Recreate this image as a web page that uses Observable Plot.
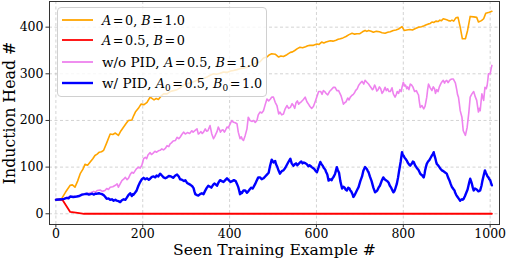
<!DOCTYPE html>
<html>
<head>
<meta charset="utf-8">
<script src="https://cdn.jsdelivr.net/npm/d3@7"></script>
<script src="https://cdn.jsdelivr.net/npm/@observablehq/plot@0.6"></script>
<style>
  html, body { margin: 0; padding: 0; background: white; }
  #wrap { position: relative; width: 507px; height: 262px; overflow: hidden; font-family: "DejaVu Serif", serif; }
  #legend { position: absolute; left: 57px; top: 7px; width: 210px; height: 90px; box-sizing: border-box;
    border: 1px solid #d0d0d0; border-radius: 4px; background: rgba(255,255,255,0.8); }
  .row { position: absolute; left: 0; height: 20px; width: 100%; }
  .sw { position: absolute; left: 3.5px; top: 0; width: 31px; height: 20px; }
  .lab { position: absolute; left: 44px; top: 0; line-height: 20px; font-size: 13.5px; white-space: nowrap; color: #000; font-family: "DejaVu Serif", serif; }
  .m { font-size: 12.8px; }
  .m i { font-style: italic; }
  .m sub { font-size: 0.7em; vertical-align: -0.3em; line-height: 0; }
</style>
</head>
<body>
<div id="wrap"></div>
<script>
const xTicks = [0, 200, 400, 600, 800, 1000];
const yTicks = [0, 100, 200, 300, 400];
const xLabel = "Seen Training Example #";
const yLabel = "Induction Head #";

const seriesNames = ["A=0, B=1.0", "A=0.5, B=0", "w/o PID, A=0.5, B=1.0", "w/ PID, A0=0.5, B0=1.0"];
const seriesColors = ["#ffa500", "#ff0000", "#ee82ee", "#0000ff"];

const orange = [[0,30],[13,32],[22,46],[33,61],[38,62],[44,57],[50,70],[56,86],[62,95],[67,106],[73,104],[79,111],[85,118],[90,125],[95,128],[100,132],[105,133],[110,136],[117,152],[125,171],[131,170],[137,173],[144,168],[150,178],[156,186],[162,194],[167,200],[175,201],[179,210],[183,218],[190,226],[196,235],[203,234],[210,239],[217,250],[226,244],[231,247],[236,245],[242,252],[248,257],[256,257],[263,262],[271,264],[279,266],[286,270],[294,276],[302,279],[310,280],[317,283],[325,286],[332,289],[340,290],[348,293],[355,297],[363,300],[370,299],[378,301],[386,304],[394,303],[402,306],[409,307],[417,309],[424,311],[432,312],[440,314],[447,317],[455,321],[462,323],[470,326],[478,334],[486,336],[492,341],[497,343],[505,342],[509,339],[513,336],[518,338],[524,337],[532,341],[540,346],[545,347],[550,350],[556,354],[562,357],[568,356],[575,358],[580,360],[585,361],[593,361],[601,364],[606,363],[612,368],[617,366],[622,368],[628,370],[632,371],[638,370],[645,372],[650,374],[655,375],[661,377],[668,380],[675,384],[682,387],[688,385],[693,386],[700,386],[706,390],[712,393],[716,391],[720,393],[726,391],[731,389],[738,391],[745,390],[751,388],[758,387],[764,389],[770,390],[777,393],[783,394],[789,396],[797,401],[802,393],[808,394],[815,395],[821,394],[828,397],[835,400],[842,401],[848,403],[853,405],[858,407],[862,408],[866,411],[870,410],[875,413],[880,412],[884,415],[888,414],[892,418],[900,416],[904,414],[908,413],[912,415],[916,413],[921,420],[926,421],[931,400],[936,375],[943,375],[948,393],[954,423],[962,422],[969,421],[973,411],[980,414],[985,418],[990,430],[998,432],[1004,434]];

const red = [[0,30],[15,30],[33,4],[50,2],[65,0],[100,0],[1004,0]];

const violet = [[0,30],[13,31],[33,37],[48,37],[60,41],[71,43],[80,45],[87,48],[91,46],[95,50],[102,51],[107,48],[113,50],[117,54],[121,52],[125,57],[131,58],[137,61],[141,64],[144,57],[148,64],[152,71],[156,74],[160,78],[164,73],[167,76],[171,84],[175,89],[179,87],[183,93],[186,97],[190,100],[194,98],[198,104],[202,118],[206,121],[209,118],[212,126],[217,131],[220,127],[224,130],[228,134],[232,132],[236,135],[240,136],[244,139],[248,137],[252,140],[256,146],[260,144],[263,150],[266,152],[270,156],[275,157],[279,164],[283,161],[286,164],[290,170],[294,175],[298,171],[303,174],[308,172],[313,178],[316,175],[320,178],[325,182],[328,171],[331,173],[334,176],[337,172],[340,175],[344,182],[347,177],[350,178],[355,189],[359,171],[363,161],[366,166],[368,170],[371,176],[374,186],[377,180],[379,175],[382,179],[385,180],[388,175],[390,178],[394,186],[397,184],[400,190],[405,200],[409,196],[413,195],[417,193],[420,175],[424,161],[427,165],[429,160],[432,157],[436,168],[440,182],[443,207],[447,200],[452,198],[455,200],[459,196],[463,200],[466,212],[470,218],[474,216],[478,221],[482,234],[486,246],[490,242],[494,246],[497,250],[501,250],[505,239],[509,232],[513,214],[516,218],[520,212],[524,214],[528,225],[532,232],[536,226],[540,228],[544,236],[547,232],[550,226],[553,238],[556,242],[559,235],[562,238],[565,240],[570,245],[574,250],[578,240],[581,236],[585,230],[589,226],[593,230],[597,240],[600,248],[605,262],[610,262],[613,256],[616,264],[619,262],[622,258],[626,255],[630,262],[634,266],[639,271],[643,271],[647,264],[651,264],[654,258],[657,252],[660,242],[662,235],[665,238],[668,240],[672,248],[675,244],[678,250],[682,254],[685,256],[688,260],[690,264],[694,268],[697,275],[701,280],[705,284],[709,278],[712,286],[716,282],[720,278],[723,274],[726,270],[729,266],[731,268],[734,276],[736,272],[739,263],[742,266],[745,272],[748,268],[751,258],[754,262],[758,271],[761,264],[764,268],[767,262],[770,262],[774,270],[777,257],[781,250],[784,256],[786,262],[789,258],[792,266],[795,262],[797,271],[800,282],[803,274],[805,276],[808,268],[810,272],[813,266],[816,278],[819,276],[822,272],[826,262],[830,264],[833,258],[835,255],[837,240],[839,228],[843,232],[847,225],[850,230],[852,240],[854,250],[856,266],[858,278],[862,270],[866,264],[869,272],[872,268],[874,258],[877,266],[880,262],[883,272],[887,280],[890,284],[892,286],[895,280],[897,284],[900,286],[903,281],[906,285],[909,288],[912,289],[915,289],[918,284],[920,280],[923,266],[925,255],[927,250],[929,236],[931,221],[935,207],[938,178],[943,168],[947,185],[951,218],[954,250],[958,257],[962,262],[966,250],[969,243],[971,230],[973,218],[975,226],[977,221],[979,240],[981,257],[983,250],[985,243],[988,271],[991,268],[993,275],[995,290],[996,300],[1000,300],[1002,310],[1004,318]];

const blue = [[0,30],[13,31],[19,32],[25,34],[29,33],[33,37],[40,36],[48,37],[54,38],[60,41],[66,42],[71,43],[76,41],[80,42],[84,43],[87,41],[91,43],[95,43],[99,44],[102,43],[106,42],[110,40],[113,37],[117,32],[121,33],[125,30],[129,31],[133,28],[137,30],[140,28],[144,27],[148,25],[152,29],[156,31],[160,30],[163,34],[167,40],[171,44],[173,41],[175,38],[177,42],[179,41],[183,46],[186,50],[190,60],[194,68],[198,74],[202,77],[206,74],[210,76],[214,73],[217,75],[221,79],[225,80],[229,78],[232,82],[236,80],[240,86],[244,82],[248,78],[252,76],[256,78],[260,81],[265,80],[270,77],[275,82],[279,84],[283,80],[286,74],[290,73],[295,70],[298,72],[302,66],[306,64],[310,62],[314,59],[317,55],[319,48],[321,42],[325,40],[328,39],[332,42],[336,44],[340,42],[343,48],[347,55],[351,60],[355,58],[358,56],[362,62],[365,65],[368,63],[371,60],[374,66],[378,72],[382,70],[386,68],[390,72],[394,76],[398,72],[402,68],[406,70],[410,72],[414,70],[417,64],[420,57],[422,50],[424,42],[426,46],[428,44],[432,50],[436,50],[440,45],[443,48],[447,53],[450,56],[453,54],[455,57],[459,64],[462,70],[466,78],[470,78],[474,74],[478,76],[482,80],[486,84],[490,88],[493,102],[497,116],[501,110],[505,113],[507,106],[510,100],[513,92],[516,86],[519,90],[521,92],[524,93],[528,98],[532,105],[536,112],[540,118],[543,108],[547,103],[550,106],[553,108],[556,104],[559,107],[562,110],[565,112],[568,108],[571,110],[575,108],[578,106],[581,102],[584,104],[587,102],[589,100],[592,98],[595,96],[598,92],[601,89],[603,94],[605,100],[607,106],[609,111],[612,106],[615,102],[617,98],[620,95],[622,90],[625,84],[628,71],[631,74],[635,72],[637,76],[640,80],[643,86],[647,100],[649,94],[652,88],[655,70],[659,54],[662,58],[665,56],[667,52],[670,50],[673,56],[676,54],[678,50],[680,48],[683,42],[685,36],[688,40],[690,44],[693,50],[697,57],[701,70],[705,80],[708,92],[712,100],[714,98],[716,96],[718,92],[720,89],[723,80],[727,70],[731,56],[735,46],[738,48],[740,50],[743,56],[746,60],[750,70],[754,78],[757,74],[760,72],[763,70],[766,67],[769,60],[772,56],[775,50],[777,46],[779,48],[781,52],[783,58],[785,64],[788,78],[790,90],[794,112],[797,132],[799,126],[801,124],[803,120],[805,118],[808,114],[810,110],[813,106],[816,103],[818,106],[820,108],[822,112],[824,111],[827,104],[830,100],[832,97],[835,94],[837,90],[839,86],[841,84],[843,83],[845,80],[847,78],[849,86],[850,92],[852,100],[854,107],[857,112],[860,115],[863,120],[866,125],[868,128],[870,132],[872,124],[874,118],[876,110],[877,107],[880,104],[883,100],[886,96],[889,93],[891,92],[894,90],[897,88],[900,86],[903,78],[906,72],[909,64],[912,57],[914,55],[916,52],[918,50],[919,46],[922,40],[925,36],[928,32],[931,28],[933,30],[935,31],[937,30],[939,32],[942,38],[945,45],[948,52],[950,60],[952,68],[954,75],[956,70],[958,64],[960,56],[962,50],[965,54],[969,52],[973,48],[977,50],[980,60],[982,70],[985,82],[988,93],[990,88],[992,84],[994,80],[996,78],[998,74],[1000,72],[1002,66],[1004,61]];

const X = d => d[0], Y = d => d[1];
const font = "DejaVu Serif";
const fmt = d => String(d);

const chart = Plot.plot({
  width: 507, height: 262,
  marginLeft: 49, marginRight: 8, marginTop: 1, marginBottom: 38,
  x: {domain: [-14.7, 1021.5]},
  y: {domain: [-23, 455]},
  style: {fontFamily: font, fontSize: "12.5px", color: "#000", background: "white", overflow: "visible"},
  marks: [
    Plot.gridX(xTicks, {stroke: "#b0b0b0", strokeOpacity: 0.7, strokeDasharray: "3,2.5", strokeWidth: 0.8}),
    Plot.gridY(yTicks, {stroke: "#b0b0b0", strokeOpacity: 0.7, strokeDasharray: "3,2.5", strokeWidth: 0.8}),
    Plot.line(orange, {x: X, y: Y, stroke: seriesColors[0], strokeWidth: 1.6}),
    Plot.line(red, {x: X, y: Y, stroke: seriesColors[1], strokeWidth: 1.8}),
    Plot.line(violet, {x: X, y: Y, stroke: seriesColors[2], strokeWidth: 1.6}),
    Plot.line(blue, {x: X, y: Y, stroke: seriesColors[3], strokeWidth: 2.4}),
    Plot.frame({stroke: "#333", strokeWidth: 1}),
    Plot.axisX(xTicks, {tickSize: 3.5, tickPadding: 1.5, label: null, stroke: "#333", fontSize: 12.5, fontFamily: font, tickFormat: fmt}),
    Plot.axisY(yTicks, {tickSize: 3.5, tickPadding: 2.5, label: null, stroke: "#333", fontSize: 12.5, fontFamily: font, tickFormat: fmt}),
    Plot.text([xLabel], {frameAnchor: "bottom", dy: 30.5, fontSize: 15.6, fontFamily: font, fill: "#000"}),
    Plot.text([yLabel], {frameAnchor: "left", textAnchor: "middle", dx: -40, rotate: -90, fontSize: 15.8, fontFamily: font, fill: "#000"})
  ]
});

const wrap = document.getElementById("wrap");
wrap.appendChild(chart);

const eq = '<span style="margin:0 0.12em">=</span>';
const labelsHTML = [
  '<span class="m"><i>A</i>' + eq + '0, <i>B</i>' + eq + '1.0</span>',
  '<span class="m"><i>A</i>' + eq + '0.5, <i>B</i>' + eq + '0</span>',
  'w/o PID, <span class="m"><i>A</i>' + eq + '0.5, <i>B</i>' + eq + '1.0</span>',
  'w/ PID, <span class="m"><i>A</i><sub>0</sub>' + eq + '0.5, <i>B</i><sub>0</sub>' + eq + '1.0</span>'
];
const legend = document.createElement("div");
legend.id = "legend";
const rowTops = [2, 22, 43.5, 65];
seriesNames.forEach((name, i) => {
  const row = document.createElement("div");
  row.className = "row";
  row.style.top = rowTops[i] + "px";
  const sw = document.createElementNS("http://www.w3.org/2000/svg", "svg");
  sw.setAttribute("class", "sw");
  sw.setAttribute("width", "31");
  sw.setAttribute("height", "20");
  const ln = document.createElementNS("http://www.w3.org/2000/svg", "line");
  ln.setAttribute("x1", "0"); ln.setAttribute("x2", "31");
  ln.setAttribute("y1", "10"); ln.setAttribute("y2", "10");
  ln.setAttribute("stroke", seriesColors[i]);
  ln.setAttribute("stroke-width", i === 3 ? "2.4" : "1.8");
  sw.appendChild(ln);
  const lab = document.createElement("div");
  lab.className = "lab";
  lab.innerHTML = labelsHTML[i];
  row.appendChild(sw);
  row.appendChild(lab);
  legend.appendChild(row);
});
wrap.appendChild(legend);
</script>
</body>
</html>
